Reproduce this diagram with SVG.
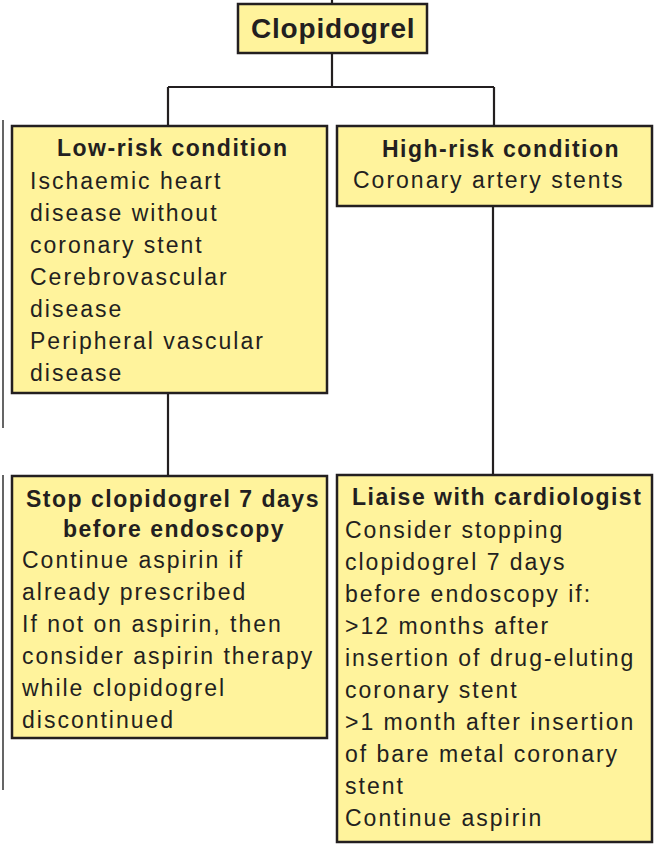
<svg xmlns="http://www.w3.org/2000/svg" width="667" height="856" viewBox="0 0 667 856">
<style>
.box{fill:#fff39c;stroke:#231f20;stroke-width:2.5}
.ln{stroke:#231f20;stroke-width:2.2;fill:none}
.edge{stroke:#333;stroke-width:1.5;fill:none}
.t{font-family:"Liberation Sans",Arial,sans-serif;font-size:23px;letter-spacing:2px;fill:#231f20}
.h{font-family:"Liberation Sans",Arial,sans-serif;font-size:23px;font-weight:bold;letter-spacing:1.5px;fill:#231f20}
.title{font-family:"Liberation Sans",Arial,sans-serif;font-size:28px;font-weight:bold;letter-spacing:0.8px;fill:#231f20}
</style>
<rect width="667" height="856" fill="#fff"/>
<g id="connectors">
<path class="ln" d="M332,0V4"/>
<path class="ln" d="M332,53V87M168,87H494M168,87V126M494,87V126"/>
<path class="ln" d="M168,393V476"/>
<path class="ln" d="M493,206V475"/>
</g>
<g id="scan-edges">
<path class="edge" d="M3,120V428M3,475V790"/>
</g>
<g id="clopidogrel">
<rect class="box" x="238" y="4" width="189" height="49"/>
<text class="title" x="251" y="38">Clopidogrel</text>
</g>
<g id="low-risk">
<rect class="box" x="12" y="126" width="315" height="267"/>
<text class="h" x="57" y="156">Low-risk condition</text>
<text class="t" x="30" y="189">Ischaemic heart</text>
<text class="t" x="30" y="221">disease without</text>
<text class="t" x="30" y="253">coronary stent</text>
<text class="t" x="30" y="285">Cerebrovascular</text>
<text class="t" x="30" y="317">disease</text>
<text class="t" x="30" y="349">Peripheral vascular</text>
<text class="t" x="30" y="381">disease</text>
</g>
<g id="high-risk">
<rect class="box" x="337" y="126" width="315" height="80"/>
<text class="h" x="382" y="157">High-risk condition</text>
<text class="t" x="353" y="188">Coronary artery stents</text>
</g>
<g id="stop">
<rect class="box" x="12" y="476" width="315" height="262"/>
<text class="h" x="26" y="507">Stop clopidogrel 7 days</text>
<text class="h" x="63" y="537">before endoscopy</text>
<text class="t" x="22" y="568">Continue aspirin if</text>
<text class="t" x="22" y="600">already prescribed</text>
<text class="t" x="22" y="632">If not on aspirin, then</text>
<text class="t" x="22" y="664">consider aspirin therapy</text>
<text class="t" x="22" y="696">while clopidogrel</text>
<text class="t" x="22" y="728">discontinued</text>
</g>
<g id="liaise">
<rect class="box" x="337" y="475" width="315" height="367"/>
<text class="h" x="352" y="505">Liaise with cardiologist</text>
<text class="t" x="345" y="538">Consider stopping</text>
<text class="t" x="345" y="570">clopidogrel 7 days</text>
<text class="t" x="345" y="602">before endoscopy if:</text>
<text class="t" x="345" y="634">&gt;12 months after</text>
<text class="t" x="345" y="666">insertion of drug-eluting</text>
<text class="t" x="345" y="698">coronary stent</text>
<text class="t" x="345" y="730">&gt;1 month after insertion</text>
<text class="t" x="345" y="762">of bare metal coronary</text>
<text class="t" x="345" y="794">stent</text>
<text class="t" x="345" y="826">Continue aspirin</text>
</g>
</svg>
